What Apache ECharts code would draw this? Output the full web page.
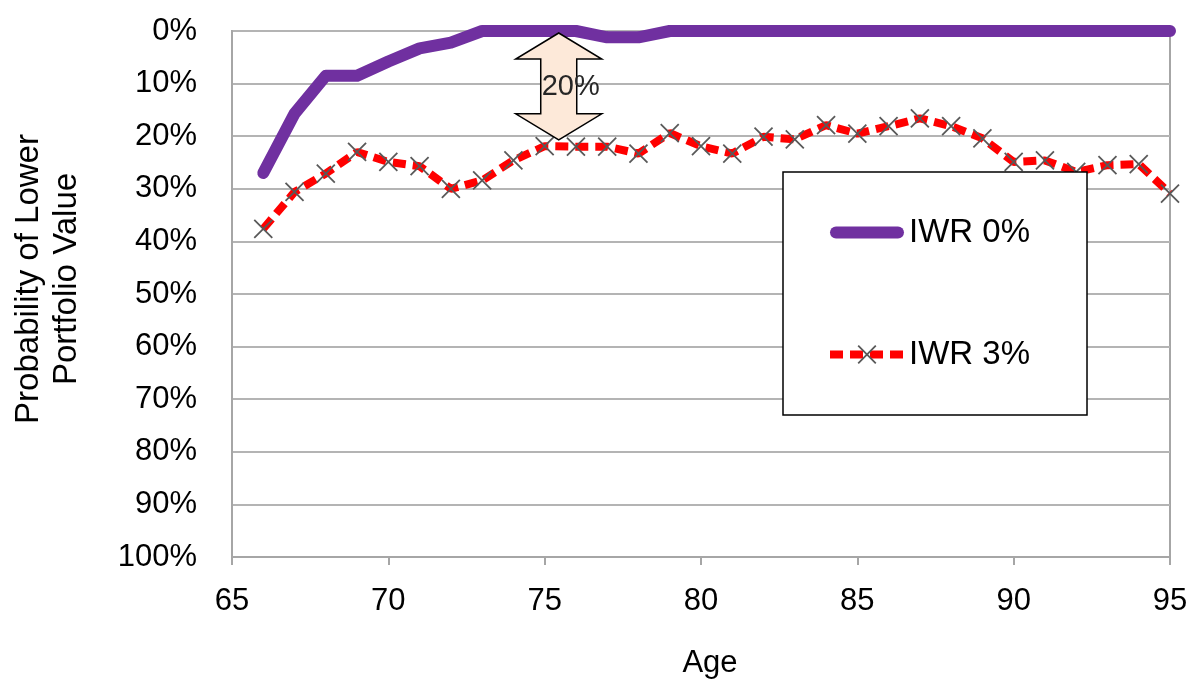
<!DOCTYPE html>
<html>
<head>
<meta charset="utf-8">
<script src="https://cdn.jsdelivr.net/npm/echarts@6/dist/echarts.min.js"></script>
<style>
  html, body { margin: 0; padding: 0; background: #fff; }
  #chart { width: 1192px; height: 683px; }
</style>
</head>
<body>
<div id="chart"></div>
<script>
// ages on the x axis
const ages = [66, 67, 68, 69, 70, 71, 72, 73, 74, 75, 76, 77, 78, 79, 80,
              81, 82, 83, 84, 85, 86, 87, 88, 89, 90, 91, 92, 93, 94, 95];

// probability of lower portfolio value, in %
const iwr0 = [27.0, 15.7, 8.5, 8.5, 5.8, 3.3, 2.2, 0, 0, 0, 0, 1.2, 1.2, 0, 0,
              0, 0, 0, 0, 0, 0, 0, 0, 0, 0, 0, 0, 0, 0, 0];
const iwr3 = [37.6, 30.6, 27.1, 23.0, 24.9, 25.7, 30.0, 28.4, 24.6, 21.9, 22.0, 22.0, 23.3, 19.4, 21.9,
              23.3, 20.1, 20.6, 17.9, 19.5, 18.1, 16.6, 18.1, 20.4, 24.9, 24.6, 26.8, 25.5, 25.3, 30.9];

const seriesNames = ["IWR 0%", "IWR 3%"];

// the gap annotation: age, from %, to %, text
const gapAge = 75.45;
const gapRange = [0, 20.5];
const gapText = "20%";

const FONT = "'Liberation Sans', Arial, sans-serif";
const AXIS_GRAY = "#a6a6a6";

const chart = echarts.init(document.getElementById("chart"));

const crossSymbol = "path://M0,0L10,10M10,0L0,10";
// thick rounded bar for the solid line legend entry
const barIcon = "path://M6,0H68A6,6 0 0 1 68,12H6A6,6 0 0 1 6,0Z";

const option = {
    animation: false,
    grid: {
        left: 232,
        right: 22,
        top: 31,
        bottom: 126,
        outerBoundsMode: "none",
        show: true,
        borderColor: AXIS_GRAY,
        borderWidth: 2,
        backgroundColor: "transparent"
    },
    legend: {
        data: [
            { name: seriesNames[0], icon: barIcon },
            { name: seriesNames[1] }
        ],
        orient: "vertical",
        left: 783,
        top: 172,
        itemWidth: 74,
        itemHeight: 22,
        itemGap: 89,
        padding: [44, 57, 44, 43],
        backgroundColor: "#fff",
        borderColor: "#000",
        borderWidth: 1.5,
        textStyle: { fontSize: 33, color: "#000", fontFamily: FONT },
        lineStyle: { width: "inherit" },
        itemStyle: { borderWidth: "inherit" }
    },
    xAxis: {
        type: "value",
        min: 65,
        max: 95,
        interval: 5,
        name: "Age",
        nameLocation: "middle",
        nameGap: 91,
        nameTextStyle: { fontSize: 31, color: "#000", fontFamily: FONT, padding: [0, 0, 0, 18] },
        axisLine: { onZero: false, lineStyle: { color: AXIS_GRAY, width: 2 } },
        axisTick: { length: 8, lineStyle: { color: AXIS_GRAY, width: 2 } },
        axisLabel: { margin: 29, fontSize: 31, color: "#000", fontFamily: FONT },
        splitLine: { show: false }
    },
    yAxis: {
        type: "value",
        inverse: true,
        min: 0,
        max: 100,
        interval: 10,
        name: "Probability of Lower\nPortfolio Value",
        nameLocation: "middle",
        nameGap: 146,
        nameRotate: 90,
        nameTextStyle: { fontSize: 33, lineHeight: 38, color: "#000", fontFamily: FONT, padding: [0, 0, 0, 30] },
        axisLine: { show: true, lineStyle: { color: AXIS_GRAY, width: 2 } },
        axisTick: { show: false },
        axisLabel: { margin: 35, fontSize: 31, color: "#000", fontFamily: FONT, formatter: "{value}%" },
        splitLine: { lineStyle: { color: "#b4b4b4", width: 2 } }
    },
    series: [
        {
            name: seriesNames[0],
            type: "line",
            data: ages.map((a, i) => [a, iwr0[i]]),
            symbol: "none",
            lineStyle: { color: "#7030a0", width: 12, cap: "round", join: "round" },
            itemStyle: { color: "#7030a0" },
            z: 3
        },
        {
            name: seriesNames[1],
            type: "line",
            data: ages.map((a, i) => [a, iwr3[i]]),
            symbol: crossSymbol,
            symbolSize: 18,
            lineStyle: { color: "#ff0000", width: 8, type: [13, 7] },
            itemStyle: { color: "#595959", borderColor: "#595959", borderWidth: 1.8 },
            z: 2
        }
    ]
};

chart.setOption(option);

// double-headed arrow marking the gap between the two lines
const drawGapArrow = () => {
    const [cx, yTop] = chart.convertToPixel({ gridIndex: 0 }, [gapAge, gapRange[0]]);
    const yBot = chart.convertToPixel({ gridIndex: 0 }, [gapAge, gapRange[1]])[1] + 1;
    const headW = 43, headH = 26, shaftW = 18;
    const pts = [
        [cx, yTop + 2],
        [cx + headW, yTop + 2 + headH],
        [cx + shaftW, yTop + 2 + headH],
        [cx + shaftW, yBot - headH],
        [cx + headW, yBot - headH],
        [cx, yBot],
        [cx - headW, yBot - headH],
        [cx - shaftW, yBot - headH],
        [cx - shaftW, yTop + 2 + headH],
        [cx - headW, yTop + 2 + headH]
    ];
    chart.setOption({
        graphic: [
            {
                type: "polygon",
                shape: { points: pts },
                style: { fill: "#fde9d9", stroke: "#000", lineWidth: 1.5 },
                z: 10
            },
            {
                type: "text",
                x: cx + 12,
                y: (yTop + yBot) / 2 + 2,
                style: {
                    text: gapText,
                    fontSize: 29,
                    fontFamily: FONT,
                    fill: "#262626",
                    align: "center",
                    verticalAlign: "middle"
                },
                z: 11
            }
        ]
    });
};

drawGapArrow();
</script>
</body>
</html>
